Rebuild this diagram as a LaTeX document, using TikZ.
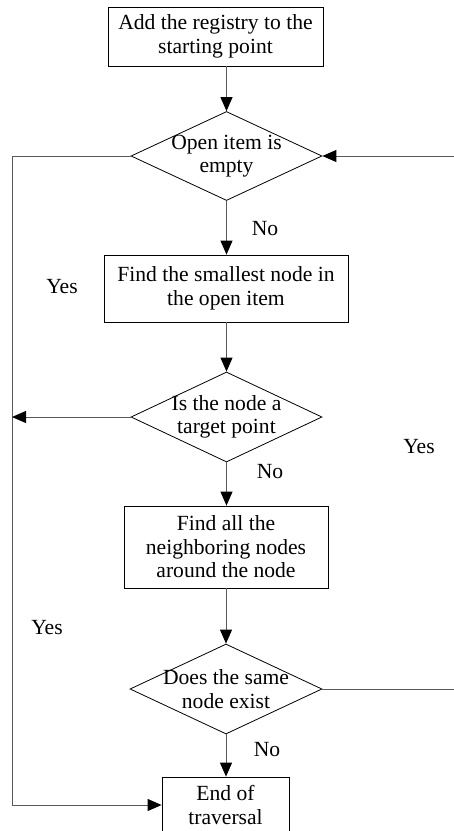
\documentclass[tikz,border=0pt]{standalone}
\usepackage{fontspec}
\setmainfont{Liberation Serif}
\usetikzlibrary{shapes.geometric,arrows.meta}
\begin{document}
\begin{tikzpicture}[x=1pt,y=-1pt,
  txt/.style={font=\fontsize{21.6}{23.5}\selectfont,align=center},
  procbox/.style={draw=black,line width=0.8pt,rectangle,inner sep=0pt,txt},
  decis/.style={draw=black,line width=0.8pt,diamond,inner sep=0pt},
  conn/.style={draw=black!65,line width=1pt},
  arr/.style={conn,-{Triangle[length=14pt,width=12pt,fill=black,color=black]}},
  lbl/.style={font=\fontsize{21.6}{23.5}\selectfont,inner sep=0pt}]
\useasboundingbox (0,0) rectangle (454,831);
\node[procbox,minimum width=215pt,minimum height=59pt] (b1) at (215.5,36.5) {Add the registry to the\\starting point};
\node[decis,minimum width=191pt,minimum height=89pt,label={[txt]center:Open item is\\empty}] (d1) at (226.5,156) {};
\node[procbox,minimum width=244pt,minimum height=67pt] (b2) at (226,288.5) {Find the smallest node in\\the open item};
\node[decis,minimum width=191pt,minimum height=90pt,label={[txt]center:Is the node a\\target point}] (d2) at (226.5,417) {};
\node[procbox,minimum width=204pt,minimum height=82pt] (b3) at (226,547) {Find all the\\neighboring nodes\\around the node};
\node[decis,minimum width=192pt,minimum height=90pt,label={[txt]center:Does the same\\node exist}] (d3) at (226,689) {};
\node[procbox,minimum width=127pt,minimum height=56pt] (b4) at (225.5,805) {End of\\traversal};
\coordinate (lt) at (12,156);
\coordinate (lm) at (12,417);
\coordinate (lb) at (12,805);
\coordinate (rb) at (457,689);
\coordinate (rt) at (457,156);
\draw[arr] (b1.south -| d1.north) -- (d1.north);
\draw[arr] (d1.south) -- (d1.south |- b2.north);
\draw[arr] (b2.south -| d2.north) -- (d2.north);
\draw[arr] (d2.south) -- (d2.south |- b3.north);
\draw[arr] (b3.south -| d3.north) -- (d3.north);
\draw[arr] (d3.south) -- (d3.south |- b4.north);
\draw[arr] (d1.west) -- (lt) -- (lb) -- (b4.west);
\draw[arr] (d2.west) -- (lm);
\draw[arr] (d3.east) -- (rb) -- (rt) -- (d1.east);
\node[lbl] (n1) at (265,229) {No};
\node[lbl] (n2) at (270,472) {No};
\node[lbl] (n3) at (267,750) {No};
\node[lbl] (y1) at (62,287) {Yes};
\node[lbl] (y2) at (419,447) {Yes};
\node[lbl] (y3) at (47,628) {Yes};
\end{tikzpicture}
\end{document}
